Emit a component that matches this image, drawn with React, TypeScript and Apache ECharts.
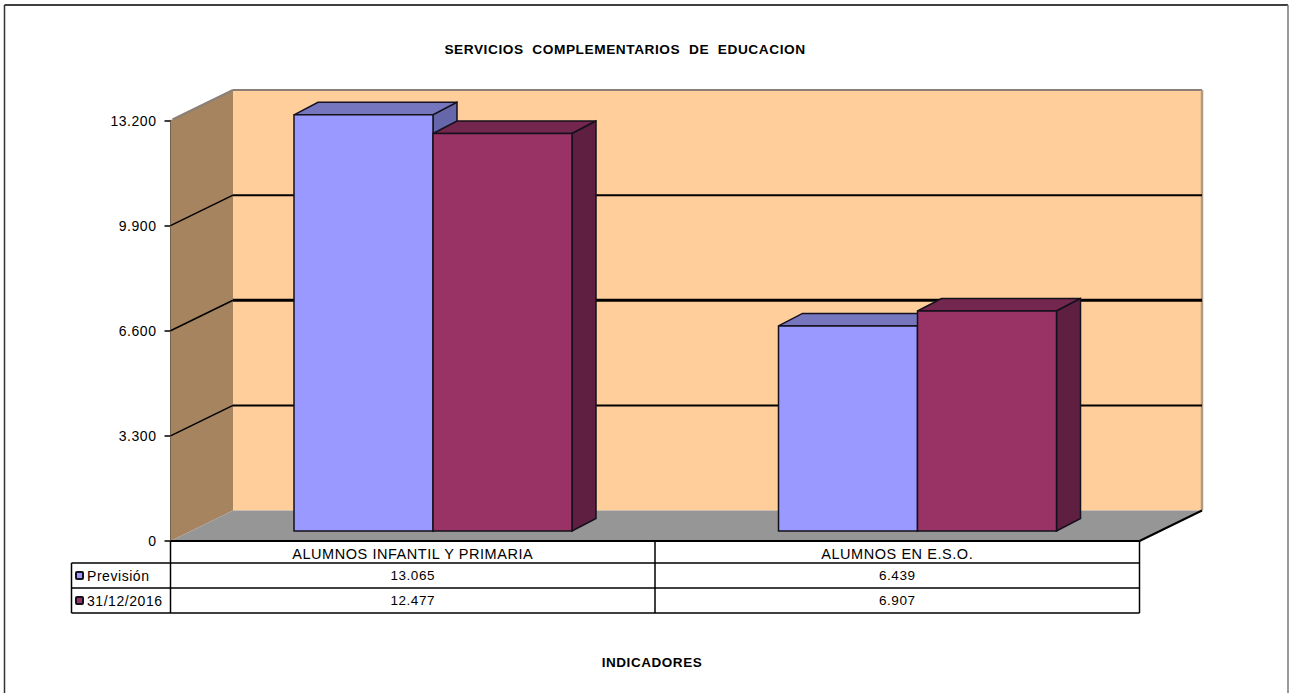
import React, { useEffect, useRef } from "react";
import * as echarts from "echarts";

const title = "SERVICIOS  COMPLEMENTARIOS  DE  EDUCACION";
const xTitle = "INDICADORES";
const categories = ["ALUMNOS INFANTIL Y PRIMARIA", "ALUMNOS EN E.S.O."];
const seriesNames = ["Previsión", "31/12/2016"];
const prevision = [13065, 6439];
const dic2016 = [12477, 6907];
const gridTicks = [3300, 6600, 9900];
const yMax = 13200;
const yStep = 3300;

const FONT = "Liberation Sans, Arial, sans-serif";
const G = { left: 170.5, top: 120.5, width: 969, height: 420.5 };
const DEPTH = [62.5, 30.5];
const BAR_W = 139;
const BAR_LEFT = -118.75;
const BAR_LIFT = 10;
const BAR_DEPTH = [24, 12.5];
const ROWS = [541, 563, 588, 613];
const TABLE_LEFT = 71.5;
const HEAVY_TICK = 6600;

const fmt = (v: number) => String(v).replace(/\B(?=(\d{3})+(?!\d))/g, ".");

const poly = (points: number[][], fill: string, stroke = "none", lineWidth = 0) => ({
  type: "polygon",
  shape: { points },
  style: { fill, stroke, lineWidth },
  silent: true,
});
const seg = (a: number[], b: number[], stroke: string, lineWidth: number) => ({
  type: "line",
  shape: { x1: a[0], y1: a[1], x2: b[0], y2: b[1] },
  style: { stroke, lineWidth },
  silent: true,
});

const wallsItem = (_p: any, api: any) => {
  const bw = api.size([1, 0])[0];
  const l = api.coord([0, 0])[0] - bw / 2;
  const r = api.coord([1, 0])[0] + bw / 2;
  const b = api.coord([0, 0])[1];
  const t = api.coord([0, yMax])[1];
  const [dx, dy] = DEPTH;
  return {
    type: "group",
    children: [
      poly([[l + dx, t - dy], [r + dx, t - dy], [r + dx, b - dy], [l + dx, b - dy]], "#FFCE9B"),
      poly([[l, t], [l + dx, t - dy], [l + dx, b - dy], [l, b]], "#A6845F"),
      poly([[l, b], [r, b], [r + dx, b - dy], [l + dx, b - dy]], "#969696"),
      seg([l + 2, t - 1], [l + dx, t - dy], "#8A8078", 2),
      seg([l + dx, t - dy], [r + dx, t - dy], "#8A8078", 2),
      seg([r + dx, t - dy], [r + dx, b - dy], "#B09A82", 2.5),
      seg([l, b], [r, b], "#000000", 2),
      seg([r, b], [r + dx, b - dy], "#000000", 2),
    ],
  };
};

const gridItem = (_p: any, api: any) => {
  const bw = api.size([1, 0])[0];
  const l = api.coord([0, 0])[0] - bw / 2;
  const r = api.coord([1, 0])[0] + bw / 2;
  const v = api.value(1);
  const y = api.coord([0, v])[1];
  const [dx, dy] = DEPTH;
  const backWidth = v === HEAVY_TICK ? 3 : 2;
  return {
    type: "group",
    children: [
      seg([l, y], [l + dx, y - dy], "#000000", 1.5),
      seg([l + dx, y - dy], [r + dx, y - dy], "#000000", backWidth),
    ],
  };
};

const barItem = (slot: number, front: string, top: string, side: string) => (_p: any, api: any) => {
  const c = api.coord([api.value(0), api.value(1)]);
  const x = c[0] + BAR_LEFT + slot * BAR_W;
  const y = c[1] - BAR_LIFT;
  const b = api.coord([api.value(0), 0])[1] - BAR_LIFT;
  const [dx, dy] = BAR_DEPTH;
  const edge = "#14101C";
  return {
    type: "group",
    children: [
      poly([[x, y], [x + dx, y - dy], [x + BAR_W + dx, y - dy], [x + BAR_W, y]], top, edge, 1.5),
      poly([[x + BAR_W, y], [x + BAR_W + dx, y - dy], [x + BAR_W + dx, b - dy], [x + BAR_W, b]], side, edge, 1.5),
      poly([[x, y], [x + BAR_W, y], [x + BAR_W, b], [x, b]], front, edge, 1.5),
    ],
  };
};

const text = (t: string, x: number, y: number, align: string, size = 13.5, weight = "normal") => ({
  type: "text",
  x,
  y,
  silent: true,
  style: { text: t, fill: "#000000", font: `${weight} ${size}px ${FONT}`, textAlign: align, textVerticalAlign: "middle" },
});
const line = (x1: number, y1: number, x2: number, y2: number, stroke = "#000000", lineWidth = 1.5) => ({
  type: "line",
  silent: true,
  shape: { x1, y1, x2, y2 },
  style: { stroke, lineWidth },
});

const tableGraphics = () => {
  const l = G.left;
  const m = G.left + G.width / 2;
  const r = G.left + G.width;
  const out: any[] = [
    line(4.5, 5, 1288, 5, "#000000", 1.5),
    line(4.5, 5, 4.5, 693, "#333333", 1.5),
    line(1288, 5, 1288, 693, "#777777", 1.5),
    line(TABLE_LEFT, ROWS[1], r, ROWS[1]),
    line(TABLE_LEFT, ROWS[2], r, ROWS[2]),
    line(TABLE_LEFT, ROWS[3], r, ROWS[3]),
    line(TABLE_LEFT, ROWS[1], TABLE_LEFT, ROWS[3]),
    line(l, ROWS[0], l, ROWS[3]),
    line(m, ROWS[0], m, ROWS[3]),
    line(r, ROWS[0], r, ROWS[3]),
    text(title, 625, 49, "center", 13.7, "bold"),
    text(xTitle, 652, 662, "center", 13.5, "bold"),
  ];
  const rows = [prevision, dic2016];
  const fills = ["#9999FF", "#993366"];
  seriesNames.forEach((name, i) => {
    const cy = (ROWS[i + 1] + ROWS[i + 2]) / 2;
    out.push({
      type: "rect",
      silent: true,
      shape: { x: 76, y: cy - 3.5, width: 7, height: 7, r: 1 },
      style: { fill: fills[i], stroke: "#14101C", lineWidth: 2 },
    });
    out.push(text(name, 87, cy, "left", 14));
    rows[i].forEach((v, j) => {
      out.push(text(fmt(v), l + (G.width / 2) * (j + 0.5), cy, "center", 13.5));
    });
  });
  return out;
};

export default function App() {
  const ref = useRef<HTMLDivElement>(null);
  useEffect(() => {
    document.body.style.margin = "0";
    document.body.style.overflow = "hidden";
    const chart = echarts.init(ref.current!, undefined, { renderer: "svg" });
    chart.setOption({
      animation: false,
      backgroundColor: "#FFFFFF",
      grid: { left: G.left, top: G.top, width: G.width, height: G.height, containLabel: false },
      xAxis: {
        type: "category",
        data: categories,
        axisLine: { show: false },
        axisTick: { show: false },
        axisLabel: { color: "#000", fontFamily: FONT, fontSize: 14.5, margin: 5, interval: 0 },
      },
      yAxis: {
        type: "value",
        min: 0,
        max: yMax,
        interval: yStep,
        splitLine: { show: false },
        axisLine: { show: true, lineStyle: { color: "#000", width: 1.5 } },
        axisTick: { show: true, length: 6, lineStyle: { color: "#000", width: 1.5 } },
        axisLabel: { color: "#000", fontFamily: FONT, fontSize: 14, margin: 14, formatter: (v: number) => fmt(v) },
      },
      series: [
        { type: "custom", coordinateSystem: "cartesian2d", renderItem: wallsItem, data: [[0, 0]], silent: true, z: 1 },
        { type: "custom", coordinateSystem: "cartesian2d", renderItem: gridItem, data: gridTicks.map((t) => [0, t]), silent: true, z: 1 },
        {
          name: seriesNames[0],
          type: "custom",
          coordinateSystem: "cartesian2d",
          renderItem: barItem(0, "#9999FF", "#7676BE", "#6666AA"),
          data: prevision.map((v, i) => [i, v]),
          silent: true,
          z: 2,
        },
        {
          name: seriesNames[1],
          type: "custom",
          coordinateSystem: "cartesian2d",
          renderItem: barItem(1, "#993366", "#74274E", "#5F1F40"),
          data: dic2016.map((v, i) => [i, v]),
          silent: true,
          z: 3,
        },
      ],
      graphic: tableGraphics(),
    });
    return () => chart.dispose();
  }, []);
  return <div ref={ref} style={{ position: "absolute", left: 0, top: 0, width: 1289, height: 693, letterSpacing: "0.55px" }} />;
}
